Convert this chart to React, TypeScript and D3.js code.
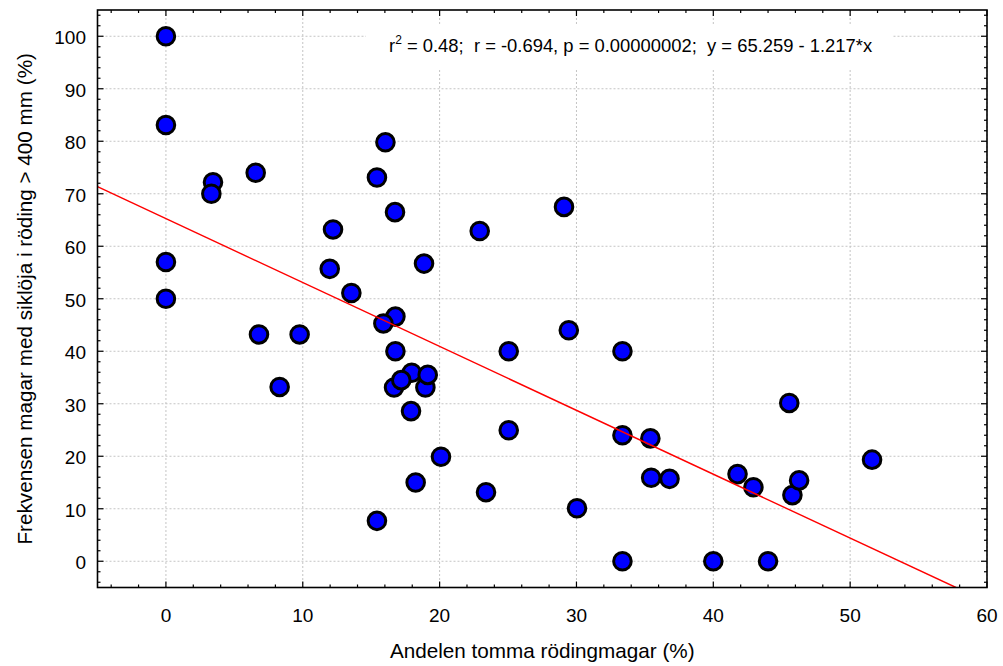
import React from "react";
import * as d3 from "d3";

const xValues = [0, 0, 0, 0, 3.44, 3.32, 6.56, 6.8, 8.31, 9.77, 11.97, 12.21, 13.55, 15.42, 15.42, 16.04, 16.74, 16.77, 15.89, 16.77, 17.96, 16.67, 17.2, 18.96, 19.13, 17.91, 18.25, 18.86, 20.1, 22.93, 23.39, 25.05, 25.05, 29.09, 29.44, 30.04, 33.36, 33.36, 35.4, 33.36, 35.46, 36.8, 40.0, 41.77, 42.93, 44.0, 45.55, 45.78, 46.27, 51.6];
const yValues = [100, 83.1, 57.0, 50.0, 72.2, 70.0, 74.0, 43.2, 33.2, 43.2, 55.7, 63.2, 51.1, 73.1, 7.7, 79.8, 66.5, 46.6, 45.3, 40.0, 35.9, 33.1, 34.5, 33.1, 35.5, 28.6, 15.0, 56.7, 19.9, 62.9, 13.15, 40.0, 24.95, 67.5, 44.0, 10.1, 40.0, 24.0, 23.4, 0, 15.9, 15.7, 0, 16.6, 14.1, 0, 30.15, 12.6, 15.4, 19.35];

const xTicks = [0, 10, 20, 30, 40, 50, 60];
const yTicks = [0, 10, 20, 30, 40, 50, 60, 70, 80, 90, 100];
const xDomain = [-5, 60];
const yDomain = [-5, 105];
const intercept = 65.259;
const slope = -1.217;

const xTitle = "Andelen tomma rödingmagar (%)";
const yTitle = "Frekvensen magar med siklöja i röding > 400 mm (%)";
const statsMain = " = 0.48;  r = -0.694, p = 0.00000002;  y = 65.259 - 1.217*x";

const W = 1003;
const H = 666;
const L = 97.5, R = 987, T = 10, B = 587.5;
const FONT = "'Liberation Sans', Arial, sans-serif";
const FS = 19;
const FS_TITLE = 20.7;
const FS_STATS = 18.4;

export default function App() {
  const x = d3.scaleLinear().domain(xDomain).range([L, R]);
  const y = d3.scaleLinear().domain(yDomain).range([B, T]);
  const minorY = d3.range(-4, yDomain[1], 2).filter((v) => !yTicks.includes(v));
  const xMinorAll = d3.range(-4, 60, 2).filter((v) => !xTicks.includes(v));
  const xEnd = (yDomain[0] - intercept) / slope;
  const lineData: [number, number][] = [
    [xDomain[0], intercept + slope * xDomain[0]],
    [xEnd, intercept + slope * xEnd],
  ];
  const line = d3
    .line<[number, number]>()
    .x((d) => x(d[0]))
    .y((d) => y(d[1]));
  const pts = xValues.map((v, i) => [v, yValues[i]] as [number, number]);
  const grid = "#c4c4c4";

  return (
    <svg
      width={W}
      height={H}
      style={{ position: "absolute", left: 0, top: 0, background: "#fff" }}
      fontFamily={FONT}
    >
      <defs>
        <clipPath id="plot">
          <rect x={L} y={T} width={R - L} height={B - T} />
        </clipPath>
      </defs>
      <rect x={0} y={0} width={W} height={H} fill="#fff" />
      {xTicks.map((t) => (
        <line key={"gx" + t} x1={x(t)} x2={x(t)} y1={T} y2={B} stroke={grid} strokeWidth={1} strokeDasharray="2,2" />
      ))}
      {yTicks.map((t) => (
        <line key={"gy" + t} x1={L} x2={R} y1={y(t)} y2={y(t)} stroke={grid} strokeWidth={1} strokeDasharray="2,2" />
      ))}
      <rect x={366} y={25} width={527} height={44} fill="#fff" />
      <text x={389} y={52} fontSize={FS_STATS} fill="#000" style={{ whiteSpace: "pre" }}>
        r<tspan dy={-8} fontSize={12}>2</tspan>
        <tspan dy={8}>{statsMain}</tspan>
      </text>
      <g>
        {pts.map((p, i) => (
          <circle key={i} cx={x(p[0])} cy={y(p[1])} r={8.8} fill="#0000ff" stroke="#000" strokeWidth={3} />
        ))}
      </g>
      <path d={line(lineData) || ""} stroke="#ff0000" strokeWidth={1.4} fill="none" clipPath="url(#plot)" />
      <rect x={L} y={T} width={R - L} height={B - T} fill="none" stroke="#000" strokeWidth={1.6} />
      {xTicks.map((t) => (
        <g key={"tx" + t}>
          <line x1={x(t)} x2={x(t)} y1={B} y2={B - 6} stroke="#000" strokeWidth={1.2} />
          <line x1={x(t)} x2={x(t)} y1={T} y2={T + 6} stroke="#000" strokeWidth={1.2} />
        </g>
      ))}
      {xMinorAll.map((t) => (
        <g key={"mx" + t}>
          <line x1={x(t)} x2={x(t)} y1={B} y2={B - 3} stroke="#000" strokeWidth={1.2} />
          <line x1={x(t)} x2={x(t)} y1={T} y2={T + 3} stroke="#000" strokeWidth={1.2} />
        </g>
      ))}
      {yTicks.map((t) => (
        <g key={"ty" + t}>
          <line x1={L} x2={L + 6} y1={y(t)} y2={y(t)} stroke="#000" strokeWidth={1.2} />
          <line x1={R} x2={R - 6} y1={y(t)} y2={y(t)} stroke="#000" strokeWidth={1.2} />
        </g>
      ))}
      {minorY.map((t) => (
        <g key={"my" + t}>
          <line x1={L} x2={L + 3} y1={y(t)} y2={y(t)} stroke="#000" strokeWidth={1.2} />
          <line x1={R} x2={R - 3} y1={y(t)} y2={y(t)} stroke="#000" strokeWidth={1.2} />
        </g>
      ))}
      {xTicks.map((t) => (
        <text key={"lx" + t} x={x(t)} y={621.5} fontSize={FS} textAnchor="middle" fill="#000">
          {t}
        </text>
      ))}
      {yTicks.map((t) => (
        <text key={"ly" + t} x={86} y={y(t) + 8} fontSize={FS} textAnchor="end" fill="#000">
          {t}
        </text>
      ))}
      <text x={(L + R) / 2} y={658} fontSize={FS_TITLE} textAnchor="middle" fill="#000">
        {xTitle}
      </text>
      <text
        transform={`translate(32, ${(T + B) / 2}) rotate(-90)`}
        fontSize={FS_TITLE}
        textAnchor="middle"
        fill="#000"
      >
        {yTitle}
      </text>
    </svg>
  );
}
